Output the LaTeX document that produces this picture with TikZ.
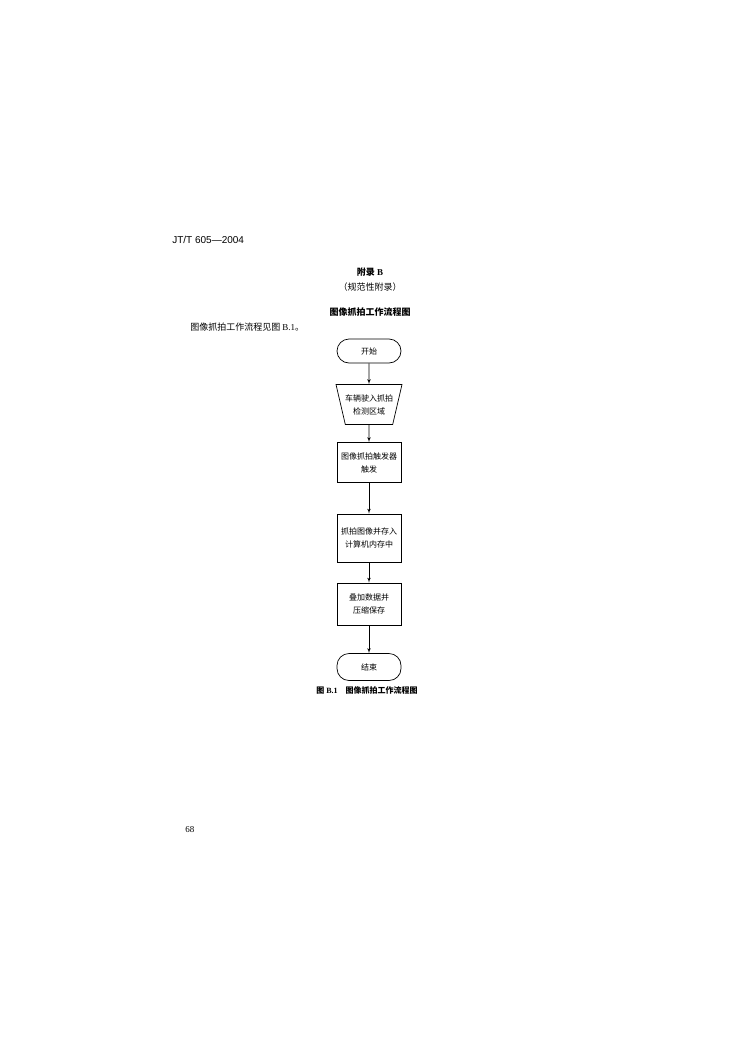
\documentclass[tikz,border=0pt]{standalone}
\usepackage{fontspec}
\setmainfont{Liberation Serif}
\newfontfamily\cjk{Noto Sans CJK SC}
\newfontfamily\hdfont{Liberation Sans}
\usetikzlibrary{arrows,shapes.geometric,positioning}
\newcommand{\boxfont}{\cjk\fontsize{8}{13}\selectfont}
\tikzset{
    block/.style = {draw, rectangle, 
        minimum height=40pt, 
        minimum width=64pt, align=center, font=\boxfont},
    term/.style = {draw, rectangle, rounded corners=12pt,
        minimum height=24pt,
        minimum width=64pt, font=\boxfont},
    region/.style = {draw, trapezium, shape border rotate=180,
        trapezium left angle=71, trapezium right angle=71,
        trapezium stretches body, inner xsep=-5pt,
        minimum height=40pt, minimum width=66pt, align=center, font=\boxfont},
    pagetext/.style = {inner sep=0pt, font=\cjk\fontsize{9}{11}\selectfont}
}
\begin{document}
\begin{tikzpicture}[x=1pt, y=-1pt, node distance=60pt, >=latex', line width=0.7pt]
        \useasboundingbox (0,0) rectangle (750,1060);
        % page head
        \node [pagetext, anchor=west, font=\hdfont\fontsize{10}{12}\selectfont] (head) at (172,240) {JT/T 605—2004};
        \node [pagetext, font=\cjk\bfseries\fontsize{9}{11}\selectfont] (annex) at (370,272) {附录 {\rmfamily B}};
        \node [pagetext] (annextype) at (370,287) {（规范性附录）};
        \node [pagetext, font=\cjk\bfseries\fontsize{9}{11}\selectfont] (title) at (370,312) {图像抓拍工作流程图};
        \node [pagetext, anchor=west] (intro) at (190,327) {图像抓拍工作流程见图 {\rmfamily B.1}。};
        % flow chart
        \node [term] (start) at (369,351) {开始};
        \node [region, below of=start, node distance=53.5pt] (enter) {车辆驶入抓拍\\检测区域};
        \draw [->] (start) -- (enter);
        \node [block, below of=enter, node distance=58pt] (trigger) {图像抓拍触发器\\触发};
        \draw [->] (enter) -- (trigger);
        \node [block, below of=trigger, node distance=75.5pt, minimum height=48pt] (store) {抓拍图像并存入\\计算机内存中};
        \draw [->] (trigger) -- (store);
        \node [block, below of=store, node distance=66pt, minimum height=42pt] (compress) {叠加数据并\\压缩保存};
        \draw [->] (store) -- (compress);
        \node [term, below of=compress, node distance=63pt, minimum height=27pt] (stop) {结束};
        \draw [->] (compress) -- (stop);
        \node [pagetext, font=\cjk\bfseries\fontsize{8}{10}\selectfont] (caption) at (367,690) {图 {\rmfamily B.1}\quad 图像抓拍工作流程图};
        % page number
        \node [pagetext, anchor=west, font=\rmfamily\fontsize{9}{11}\selectfont] (pageno) at (185,830) {68};
\end{tikzpicture}
\end{document}
